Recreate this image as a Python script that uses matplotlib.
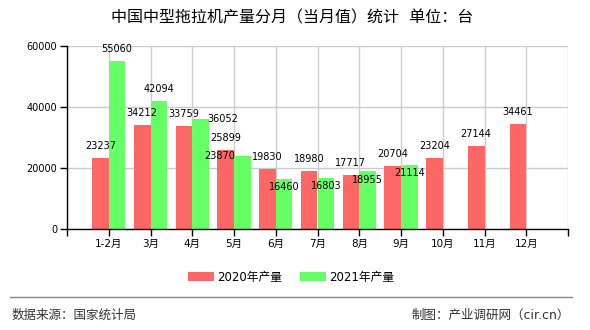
import matplotlib
matplotlib.use("Agg")
import matplotlib.pyplot as plt
import numpy as np

plt.rcParams['font.family'] = ['DejaVu Sans', 'Noto Sans CJK SC']

months = ['1-2月', '3月', '4月', '5月', '6月', '7月', '8月', '9月', '10月', '11月', '12月']
prod_2020 = [23237, 34212, 33759, 25899, 19830, 18980, 17717, 20704, 23204, 27144, 34461]
prod_2021 = [55060, 42094, 36052, 23870, 16460, 16803, 18955, 21114]

# label offsets in pixels (dx, dy) relative to bar top
off_2020 = [(0, 12)] * len(prod_2020)
off_2021 = [(0, 12), (0, 12), (22, 0), (-23, 0), (0, -8), (0, -8), (0, -9), (0, -8)]

red = '#ff6666'
green = '#66ff66'
px = 72 / 100

fig = plt.figure(figsize=(5.9, 3.3), dpi=100)
ax = fig.add_axes([67 / 590, 1 - 229 / 330, 501 / 590, 183 / 330])

x = np.arange(len(months))
w = 0.4
b1 = ax.bar(x[:len(prod_2020)] - w / 2, prod_2020, w, color=red, label='2020年产量', zorder=2)
b2 = ax.bar(x[:len(prod_2021)] + w / 2, prod_2021, w, color=green, label='2021年产量', zorder=2)

for bars, vals, offs in [(b1, prod_2020, off_2020), (b2, prod_2021, off_2021)]:
    for r, v, (dx, dy) in zip(bars, vals, offs):
        ax.annotate(str(v), (r.get_x() + r.get_width() / 2, v),
                    xytext=(dx * px, dy * px), textcoords='offset points',
                    ha='center', va='center', fontsize=7, color='black', zorder=4)

ax.set_xlim(-1, len(months))
ax.set_ylim(0, 60000)
ax.set_xticks(np.arange(-1, len(months) + 1))
ax.set_xticklabels([''] + months + [''], fontsize=7.5)
ax.set_yticks([0, 20000, 40000, 60000])
ax.set_yticklabels(['0', '20000', '40000', '60000'], fontsize=7)
ax.grid(True, color='#cccccc', linewidth=1, zorder=0)
ax.set_axisbelow(True)
for s in ['top', 'right']:
    ax.spines[s].set_visible(False)
for s in ['left', 'bottom']:
    ax.spines[s].set_color('black')
    ax.spines[s].set_linewidth(1)
ax.tick_params(length=5, width=1, pad=2)

fig.text(0.495, 1 - 18 / 330, '中国中型拖拉机产量分月（当月值）统计  单位：台',
         ha='center', va='center', fontsize=11.5, color='black')

fig.legend(handles=[b1, b2], loc='center', bbox_to_anchor=(291 / 590, 1 - 277 / 330),
           ncol=2, frameon=False, fontsize=8.5, handlelength=2.2, handleheight=0.8,
           columnspacing=1.5, handletextpad=0.3)

fig.add_artist(plt.Line2D([10 / 590, 572 / 590], [1 - 297 / 330, 1 - 297 / 330],
                          color='#888888', linewidth=1))
fig.text(12 / 590, 1 - 315 / 330, '数据来源：国家统计局', ha='left', va='center',
         fontsize=9, color='#333333')
fig.text(570 / 590, 1 - 315 / 330, '制图：产业调研网（cir.cn）', ha='right', va='center',
         fontsize=9, color='#333333')

fig.savefig('out.png', dpi=100)
